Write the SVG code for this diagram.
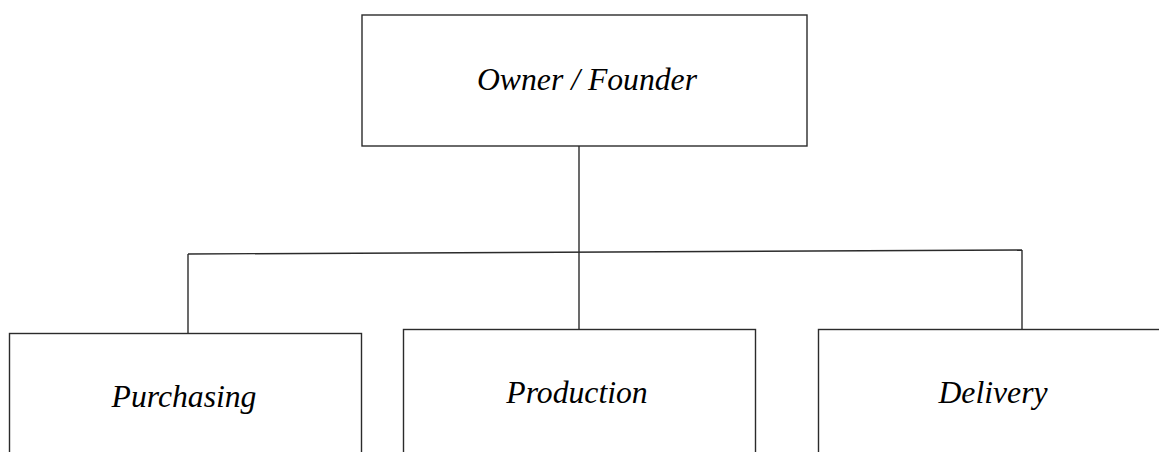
<svg xmlns="http://www.w3.org/2000/svg" width="1159" height="452" viewBox="0 0 1159 452">
<style>
.box{fill:#fff;stroke:#2b2b2b;stroke-width:1.4}
.lbl{font-family:"Liberation Serif","Times New Roman",serif;font-style:italic;font-size:31.7px;fill:#000;text-anchor:middle}
.conn{fill:none;stroke:#2b2b2b;stroke-width:1.4}
</style>
<rect width="1159" height="452" fill="#fff"/>
<g id="connectors">
<line class="conn" x1="579" y1="146" x2="579" y2="329.5"/>
<line class="conn" x1="188" y1="254" x2="1022" y2="250"/>
<line class="conn" x1="188" y1="254" x2="188" y2="333.5"/>
<line class="conn" x1="1022" y1="250" x2="1022" y2="329.5"/>
</g>
<g id="owner">
<rect class="box" x="362" y="15" width="445" height="131"/>
<text class="lbl" x="587" y="90">Owner / Founder</text>
</g>
<g id="purchasing">
<rect class="box" x="9.5" y="333.5" width="352" height="140"/>
<text class="lbl" x="184" y="407">Purchasing</text>
</g>
<g id="production">
<rect class="box" x="403.5" y="329.5" width="352" height="140"/>
<text class="lbl" x="577" y="403">Production</text>
</g>
<g id="delivery">
<rect class="box" x="818.5" y="329.5" width="352" height="140"/>
<text class="lbl" x="993" y="403">Delivery</text>
</g>
</svg>
